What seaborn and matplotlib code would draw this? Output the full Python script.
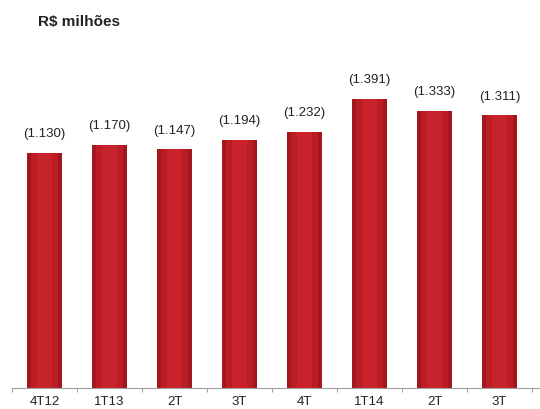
import matplotlib
matplotlib.use("Agg")
import matplotlib.pyplot as plt
import seaborn as sns
import pandas as pd
import numpy as np

categories = ["4T12", "1T13", "2T", "3T", "4T", "1T14", "2T ", "3T "]
tick_labels = ["4T12", "1T13", "2T", "3T", "4T", "1T14", "2T", "3T"]
values = [1.130, 1.170, 1.147, 1.194, 1.232, 1.391, 1.333, 1.311]
value_labels = ["(1.130)", "(1.170)", "(1.147)", "(1.194)", "(1.232)", "(1.391)", "(1.333)", "(1.311)"]

sns.set_theme(style="white")
plt.rcParams["font.family"] = ["Liberation Sans", "DejaVu Sans"]

df = pd.DataFrame({"cat": categories, "val": values})

fig = plt.figure(figsize=(5.4, 4.09), dpi=100)
W, H = 540, 409
ax = fig.add_axes([12 / W, 1 - 388 / H, (540 - 12) / W, (388 - 60) / H])

sns.barplot(data=df, x="cat", y="val", color="#A3161D", width=0.54, ax=ax,
            saturation=1, edgecolor="none")
# cylinder shading: darker left/right edges, lighter center stripe
sns.barplot(data=df, x="cat", y="val", color="#BC1C24", width=0.42, ax=ax,
            saturation=1, edgecolor="none")
sns.barplot(data=df, x="cat", y="val", color="#C8222A", width=0.24, ax=ax,
            saturation=1, edgecolor="none")

for i, (v, lab) in enumerate(zip(values, value_labels)):
    ax.annotate(lab, (i, v), xytext=(0, 9), textcoords="offset points",
                ha="center", va="bottom", fontsize=9.5, color="#222222")

ax.set_xlim(-0.5, (540 - 12) / 65 - 0.5)
ax.set_ylim(0, (388 - 60) / 208)
ax.set_xlabel("")
ax.set_ylabel("")
ax.set_yticks([])
ax.set_xticks(range(len(tick_labels)))
ax.set_xticklabels(tick_labels, fontsize=9.5, color="#222222")
ax.set_xticks(np.arange(-0.5, 8.0, 1.0), minor=True)
ax.tick_params(axis="x", which="major", length=0, pad=6)
ax.tick_params(axis="x", which="minor", length=3, width=0.8, color="#A0A0A0",
               direction="out", bottom=True)
for s in ["top", "right", "left"]:
    ax.spines[s].set_visible(False)
ax.spines["bottom"].set_color("#A0A0A0")
ax.spines["bottom"].set_linewidth(0.8)

fig.text(38 / W, 1 - 22 / H, "R$ milhões", fontsize=11, fontweight="bold",
         color="#222222", ha="left", va="center")

fig.savefig("out.png", dpi=100)
